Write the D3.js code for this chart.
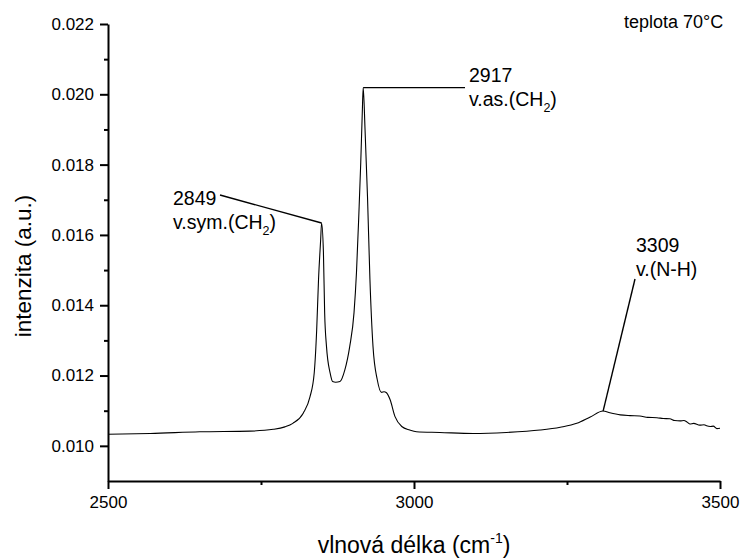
<!DOCTYPE html>
<html>
<head>
<meta charset="utf-8">
<script src="https://cdn.jsdelivr.net/npm/d3@7"></script>
<style>
  html, body { margin: 0; padding: 0; background: #fff; }
  svg { display: block; font-family: Arial, "Liberation Sans", sans-serif; }
</style>
</head>
<body>
<svg id="chart" width="742" height="558"></svg>
<script>
// ---- data ----
const wavenumber = [
  2500, 2569, 2650, 2732, 2770, 2789, 2802, 2819, 2830, 2837,
  2841, 2844, 2847.5, 2849, 2852, 2854, 2857, 2863, 2867, 2872,
  2879, 2887, 2895, 2902, 2906, 2910, 2913, 2915.5, 2917, 2920,
  2924, 2928, 2933, 2940, 2947, 2951, 2955, 2961, 2969, 2980,
  2993, 3004, 3042, 3097, 3151, 3206, 3239, 3266, 3288, 3309,
  3320, 3337, 3353, 3369, 3382, 3397, 3407, 3418, 3426, 3435,
  3441, 3446, 3451, 3457, 3467, 3474, 3478, 3484, 3489, 3495,
  3500
];
const intensity = [
  0.01033, 0.01035, 0.01040, 0.01042, 0.01047, 0.01054, 0.01064, 0.01093, 0.01139, 0.01208,
  0.01330, 0.01473, 0.01587, 0.01634, 0.01550, 0.01379, 0.01283, 0.01207, 0.01183, 0.01181,
  0.01183, 0.01216, 0.01283, 0.01379, 0.01493, 0.01664, 0.01806, 0.01948, 0.02019, 0.01900,
  0.01710, 0.01473, 0.01283, 0.01188, 0.01152, 0.01154, 0.01151, 0.01131, 0.01083, 0.01055,
  0.01045, 0.01040, 0.01038, 0.01035, 0.01038, 0.01045, 0.01053, 0.01064, 0.01082, 0.01099,
  0.01094, 0.01088, 0.01086, 0.01085, 0.01081, 0.01080, 0.01078, 0.01077, 0.01072, 0.01071,
  0.01072, 0.01068, 0.01062, 0.01064, 0.01059, 0.01060, 0.01057, 0.01055, 0.01056, 0.01049,
  0.01050
];
const xTicks = [2500, 3000, 3500];
const xMinorTicks = [2750, 3250];
const yTicks = [0.010, 0.012, 0.014, 0.016, 0.018, 0.020, 0.022];
const yMinorTicks = [0.011, 0.013, 0.015, 0.017, 0.019, 0.021];
const peakPositions = [2849, 2917, 3309];
const peakNumbers = ["2849", "2917", "3309"];
const peakModes = [["v.sym.(CH", "2", ")"], ["v.as.(CH", "2", ")"], ["v.(N-H)", "", ""]];
const temperatureLabel = "teplota 70°C";
const xTitle = ["vlnová délka (cm", "-1", ")"];
const yTitle = "intenzita (a.u.)";

// ---- layout ----
const svg = d3.select("#chart");
const x = d3.scaleLinear().domain([2500, 3500]).range([108, 720]);
const y = d3.scaleLinear().domain([0.009, 0.022]).range([481, 24]);

const tickFont = "17px";
const fmtY = d3.format(".3f");

// y axis
const gy = svg.append("g").attr("transform", "translate(108,0)");
gy.call(d3.axisLeft(y).tickValues(yTicks).tickFormat(fmtY).tickSize(8).tickSizeOuter(0).tickPadding(6));
gy.append("g").call(d3.axisLeft(y).tickValues(yMinorTicks).tickFormat("").tickSize(4).tickSizeOuter(0))
  .select(".domain").remove();
gy.selectAll("text").attr("font-size", tickFont).attr("font-family", "Arial, 'Liberation Sans', sans-serif").attr("fill", "#000");

// x axis
const gx = svg.append("g").attr("transform", "translate(0,481)");
gx.call(d3.axisBottom(x).tickValues(xTicks).tickFormat(d3.format("d")).tickSize(8).tickSizeOuter(0).tickPadding(7));
gx.append("g").call(d3.axisBottom(x).tickValues(xMinorTicks).tickFormat("").tickSize(4).tickSizeOuter(0))
  .select(".domain").remove();
gx.selectAll("text").attr("font-size", tickFont).attr("font-family", "Arial, 'Liberation Sans', sans-serif").attr("fill", "#000");

svg.selectAll(".domain").attr("stroke", "#000").attr("stroke-width", 2);
svg.selectAll(".tick line").attr("stroke", "#000").attr("stroke-width", 2);

// axis titles
svg.append("text")
  .attr("transform", "translate(31,266) rotate(-90)")
  .attr("text-anchor", "middle")
  .attr("font-size", "22.5px")
  .text(yTitle);

const xt = svg.append("text")
  .attr("x", 414).attr("y", 553)
  .attr("text-anchor", "middle")
  .attr("font-size", "23px");
xt.append("tspan").text(xTitle[0]);
xt.append("tspan").attr("font-size", "14px").attr("dy", -10).text(xTitle[1]);
xt.append("tspan").attr("dy", 10).text(xTitle[2]);

// spectrum line
const pts = wavenumber.map((w, i) => [w, intensity[i]]);
svg.append("path")
  .datum(pts)
  .attr("fill", "none")
  .attr("stroke", "#000")
  .attr("stroke-width", 1.1)
  .attr("d", d3.line().x(d => x(d[0])).y(d => y(d[1])).curve(d3.curveMonotoneX));

// annotations
const peakValue = p => intensity[wavenumber.indexOf(p)];
const labelPos = [
  { tx: 173, ty: 205, lx: 220, ly: 195 },
  { tx: 469, ty: 82,  lx: 465, ly: null },
  { tx: 636, ty: 252, lx: 635, ly: 279 }
];
peakPositions.forEach((p, i) => {
  const px = x(p), py = y(peakValue(p));
  const L = labelPos[i];
  svg.append("line")
    .attr("x1", px).attr("y1", py)
    .attr("x2", L.lx).attr("y2", L.ly === null ? py : L.ly)
    .attr("stroke", "#000").attr("stroke-width", 1.4);
  svg.append("text").attr("x", L.tx).attr("y", L.ty).attr("font-size", "19.5px").text(peakNumbers[i]);
  const t = svg.append("text").attr("x", L.tx).attr("y", L.ty + 23.5).attr("font-size", "19.5px");
  const m = peakModes[i];
  t.append("tspan").text(m[0]);
  if (m[1]) {
    t.append("tspan").attr("font-size", "12.5px").attr("dy", 6).text(m[1]);
    t.append("tspan").attr("dy", -6).text(m[2]);
  }
});

svg.append("text").attr("x", 624).attr("y", 28).attr("font-size", "18px").text(temperatureLabel);
</script>
</body>
</html>
